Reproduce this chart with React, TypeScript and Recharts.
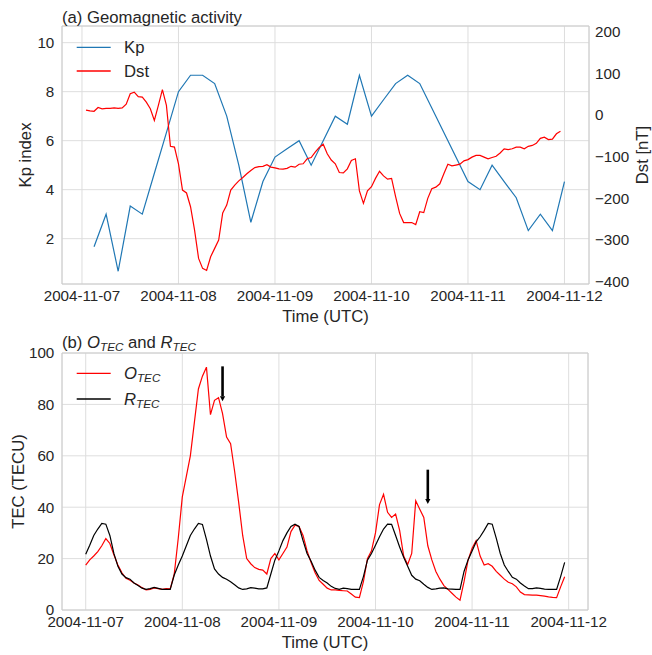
import React from "react"
import { LineChart, Line, XAxis, YAxis, CartesianGrid, ReferenceArea, ReferenceLine, Legend } from "recharts"

// tick labels (one per day, x axis in hours since 2004-11-07 00 UT)
const dayLabels = ["2004-11-07", "2004-11-08", "2004-11-09", "2004-11-10", "2004-11-11", "2004-11-12"]
const dayTicks = [0, 24, 48, 72, 96, 120]
const kpTicks = [2, 4, 6, 8, 10]
const dstTicks = [-400, -300, -200, -100, 0, 100, 200]
const tecTicks = [0, 20, 40, 60, 80, 100]

// Kp, 3-hourly, first value at 03 UT on 2004-11-07
const kpValues = [
  1.67, 3, 0.67, 3.33, 3, 4.67, 6.33, 8, 8.67, 8.67,
  8.33, 7, 5, 2.67, 4.33, 5.33, 5.67, 6, 5, 6,
  7, 6.67, 8.67, 7, 7.67, 8.33, 8.67, 8.33, 7.33, 6.33,
  5.33, 4.33, 4, 5, 4.33, 3.67, 2.33, 3, 2.33, 4.33,
]

// Dst [nT], hourly, first value at 01 UT
const dstValues = [
  12, 10, 9, 18, 15, 16, 16, 17, 16, 17,
  26, 51, 55, 44, 43, 31, 15, -13, 23, 61,
  23, -75, -77, -117, -180, -187, -220, -276, -344, -368,
  -373, -340, -320, -300, -235, -216, -180, -168, -158, -150,
  -141, -133, -126, -124, -123, -119, -125, -127, -129, -130,
  -128, -123, -125, -118, -117, -105, -102, -89, -78, -70,
  -93, -108, -117, -138, -139, -129, -109, -105, -182, -212,
  -182, -172, -152, -135, -146, -154, -152, -196, -236, -258,
  -258, -258, -263, -232, -234, -200, -177, -173, -165, -141,
  -118, -122, -120, -118, -110, -107, -101, -97, -97, -101,
  -105, -102, -99, -91, -81, -83, -81, -77, -77, -81,
  -75, -73, -68, -56, -53, -59, -58, -45, -39,
]

// observed TEC (TECU), hourly from 00 UT
const oTecValues = [
  17.5, 19.5, 21, 22.7, 25, 27.8, 25.9, 21.5, 17.5, 14.5,
  12.3, 11.6, 10.5, 9.7, 8.7, 7.8, 8, 8.6, 8.3, 8,
  8.3, 8.2, 14, 28, 44, 52, 60, 73, 86, 91,
  94.5, 76, 81.6, 82.6, 76.4, 67.3, 64.7, 54, 42, 29,
  20, 18, 16.5, 15.8, 15.5, 14, 20, 22, 19.5, 22,
  24.5, 30.5, 33, 32.5, 29, 23, 18.5, 14.5, 11.5, 10,
  8.5, 7.8, 7.8, 7.6, 7.5, 7.4, 6.2, 5, 4.8, 11,
  20, 23, 30, 41, 45, 38, 36, 37.3, 31, 21,
  17.7, 22, 42.5, 39.2, 36, 25, 19.5, 15, 12, 9.5,
  8, 6.5, 5, 3.8, 11, 19.4, 24, 27, 21, 17.5,
  18, 17, 15, 13.5, 12, 10.8, 10.2, 9, 7, 6,
  5.9, 5.8, 5.8, 5.6, 5.4, 5.1, 4.9, 4.8, 9, 12.9,
]

// reference TEC (TECU), hourly from 00 UT
const rTecValues = [
  21.7, 25.2, 29, 31.5, 33.7, 33.4, 29, 22, 17, 14,
  12.6, 12, 10.5, 9.5, 8.5, 8, 8.3, 8.8, 8.4, 8,
  8, 8, 13.6, 17.5, 21, 25, 29, 31.5, 33.7, 33.3,
  27.5, 21, 16, 14, 12.7, 12, 11, 9.8, 8.6, 8,
  8.2, 8.7, 8.5, 8.2, 8.2, 8.6, 14, 19.4, 23, 27,
  30, 32.5, 33.4, 32.5, 27, 22, 19, 15.5, 12.7, 11.5,
  10.5, 9.2, 8.4, 8, 8.5, 8.3, 8, 8, 8, 13,
  19.4, 22, 25.2, 28.5, 31.5, 33.4, 33.3, 29, 24.5, 20.5,
  17, 13.5, 12, 11.4, 10, 8.8, 8, 8.2, 8.5, 8.6,
  8.2, 8.1, 8, 8, 15, 19.5, 23, 26.5, 28.5, 31,
  33.7, 33.4, 28, 22, 17.5, 15, 12.7, 12, 10.5, 9.3,
  8.3, 8.3, 8.6, 8.4, 8.1, 8, 8, 8, 13, 18.5,
]

// storm markers in panel (b): hour, top and tip of the arrow in TECU
const arrowMarks = [
  { hour: 34, from: 94.8, to: 81.2 },
  { hour: 85, from: 54.6, to: 41.2 },
]

const font = "'Liberation Sans', Arial, sans-serif"
const ink = "#262626"
const gridColor = "#dedede"
const edgeColor = "#cccccc"
const tickStyle = { fontSize: 15.2, fill: ink }
const labelStyle = { fontSize: 16.7, fill: ink, textAnchor: "middle" as const }

const topX: [number, number] = [-4.97, 126.1]
const kpDomain: [number, number] = [0.15, 10.68]
const dstDomain: [number, number] = [-405.5, 213.7]
const bottomX: [number, number] = [-5.89, 124.8]
const tecDomain: [number, number] = [0, 100]

const topRows = Array.from({ length: 121 }, (_, h) => ({
  h,
  kp: h >= 3 && h % 3 === 0 ? kpValues[h / 3 - 1] ?? null : null,
  dst: h >= 1 ? dstValues[h - 1] ?? null : null,
}))

const tecRows = oTecValues.map((o, h) => ({ h, o, r: rTecValues[h] }))

const dayFormat = (v: number) => dayLabels[Math.round(v / 24)] ?? ""
const minusFormat = (v: number) => (v < 0 ? "\u2212" + Math.abs(v) : String(v))

// italic symbol with an italic subscript (leaves the baseline shifted by +3)
const Sub = ({ main, sub }: { main: string; sub: string }) => (
  <>
    <tspan fontStyle="italic">{main}</tspan>
    <tspan fontStyle="italic" fontSize={11.7} dy={3}>{sub}</tspan>
  </>
)

const legendA = () => (
  <svg width={110} height={50} style={{ display: "block" }}>
    <line x1={0.7} y1={12.3} x2={34.7} y2={12.3} stroke="#1f77b4" strokeWidth={1.3} />
    <text x={48} y={18.3} fontSize={16.7} fill={ink}>Kp</text>
    <line x1={0.7} y1={36} x2={34.7} y2={36} stroke="#ff0000" strokeWidth={1.3} />
    <text x={48} y={42} fontSize={16.7} fill={ink}>Dst</text>
  </svg>
)

const legendB = () => (
  <svg width={110} height={52} style={{ display: "block" }}>
    <line x1={0.7} y1={12.3} x2={34.7} y2={12.3} stroke="#ff0000" strokeWidth={1.3} />
    <text x={48} y={18.3} fontSize={16.7} fill={ink}><Sub main="O" sub="TEC" /></text>
    <line x1={0.7} y1={38} x2={34.7} y2={38} stroke="#000000" strokeWidth={1.3} />
    <text x={48} y={44} fontSize={16.7} fill={ink}><Sub main="R" sub="TEC" /></text>
  </svg>
)

const arrowShape = (p: any) => {
  const { x1, y1, x2, y2 } = p
  const head = 5
  const half = 2.6
  return (
    <g>
      <line x1={x1} y1={y1} x2={x2} y2={y2 - head} stroke="#000" strokeWidth={2.6} />
      <polygon points={`${x2 - half},${y2 - head} ${x2 + half},${y2 - head} ${x2},${y2}`} fill="#000" />
    </g>
  )
}

export default function App() {
  return (
    <div style={{ position: "absolute", left: 0, top: 0, width: 652, height: 655, background: "#fff", fontFamily: font }}>
      <div style={{ position: "absolute", left: 0, top: 0 }}>
        <LineChart width={652} height={330} data={topRows} margin={{ top: 26, right: 0, bottom: 0, left: 0 }}>
          <CartesianGrid yAxisId="kp" stroke={gridColor} />
          <XAxis
            dataKey="h"
            type="number"
            domain={topX}
            allowDataOverflow
            ticks={dayTicks}
            tickFormatter={dayFormat}
            tickLine={false}
            axisLine={false}
            tickSize={0}
            tickMargin={6.7}
            height={46}
            tick={tickStyle}
            label={{ value: "Time (UTC)", position: "insideBottom", offset: 7.7, style: labelStyle }}
          />
          <YAxis
            yAxisId="kp"
            domain={kpDomain}
            allowDataOverflow
            ticks={kpTicks}
            tickLine={false}
            axisLine={false}
            tickSize={0}
            tickMargin={7.7}
            width={62}
            tick={tickStyle}
            label={{ value: "Kp index", angle: -90, position: "insideLeft", offset: 25, style: labelStyle }}
          />
          <YAxis
            yAxisId="dst"
            orientation="right"
            domain={dstDomain}
            allowDataOverflow
            ticks={dstTicks}
            tickFormatter={minusFormat}
            tickLine={false}
            axisLine={false}
            tickSize={0}
            tickMargin={6}
            width={63}
            tick={tickStyle}
            label={{ value: "Dst [nT]", angle: -90, position: "insideRight", offset: 10, style: labelStyle }}
          />
          <Line yAxisId="kp" dataKey="kp" stroke="#1f77b4" strokeWidth={1.2} dot={false} connectNulls isAnimationActive={false} />
          <Line yAxisId="dst" dataKey="dst" stroke="#ff0000" strokeWidth={1.2} dot={false} isAnimationActive={false} />
          <ReferenceArea yAxisId="kp" x1={topX[0]} x2={topX[1]} y1={kpDomain[0]} y2={kpDomain[1]} fill="none" stroke={edgeColor} ifOverflow="visible" />
          <Legend layout="vertical" align="center" verticalAlign="middle" content={legendA} wrapperStyle={{ left: 76, top: 35, width: 110, height: 50 }} />
        </LineChart>
      </div>

      <div style={{ position: "absolute", left: 0, top: 330 }}>
        <LineChart width={652} height={325} data={tecRows} margin={{ top: 23, right: 64, bottom: 0, left: 0 }}>
          <CartesianGrid stroke={gridColor} />
          <XAxis
            dataKey="h"
            type="number"
            domain={bottomX}
            allowDataOverflow
            ticks={dayTicks}
            tickFormatter={dayFormat}
            tickLine={false}
            axisLine={false}
            tickSize={0}
            tickMargin={6.7}
            height={45}
            tick={tickStyle}
            label={{ value: "Time (UTC)", position: "insideBottom", offset: 6.7, style: labelStyle }}
          />
          <YAxis
            domain={tecDomain}
            allowDataOverflow
            ticks={tecTicks}
            tickLine={false}
            axisLine={false}
            tickSize={0}
            tickMargin={7.7}
            width={62}
            tick={tickStyle}
            label={{ value: "TEC (TECU)", angle: -90, position: "insideLeft", offset: 18, style: labelStyle }}
          />
          <Line dataKey="o" stroke="#ff0000" strokeWidth={1.2} dot={false} isAnimationActive={false} />
          <Line dataKey="r" stroke="#000000" strokeWidth={1.2} dot={false} isAnimationActive={false} />
          {arrowMarks.map((a) => (
            <ReferenceLine
              key={a.hour}
              segment={[{ x: a.hour, y: a.from }, { x: a.hour, y: a.to }]}
              shape={arrowShape}
              ifOverflow="visible"
            />
          ))}
          <ReferenceArea x1={bottomX[0]} x2={bottomX[1]} y1={tecDomain[0]} y2={tecDomain[1]} fill="none" stroke={edgeColor} ifOverflow="visible" />
          <Legend layout="vertical" align="center" verticalAlign="middle" content={legendB} wrapperStyle={{ left: 76, top: 31, width: 110, height: 52 }} />
        </LineChart>
      </div>

      <svg width={652} height={655} style={{ position: "absolute", left: 0, top: 0, pointerEvents: "none" }}>
        <text x={62} y={22.7} fontSize={16.7} fill={ink}>(a) Geomagnetic activity</text>
        <text x={62} y={348.3} fontSize={16.7} fill={ink}>
          <tspan>(b) </tspan>
          <Sub main="O" sub="TEC" />
          <tspan dy={-3}> and </tspan>
          <Sub main="R" sub="TEC" />
        </text>
      </svg>
    </div>
  )
}
